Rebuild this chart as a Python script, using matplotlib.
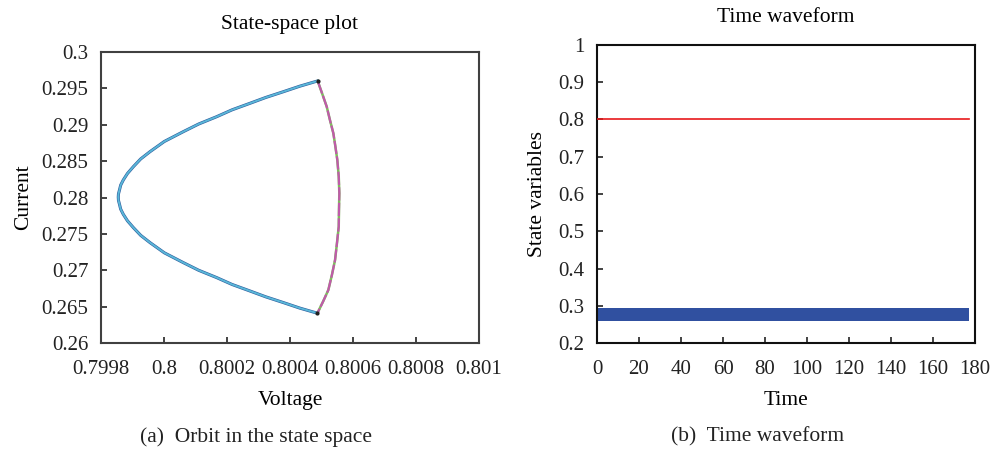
import numpy as np
import matplotlib
matplotlib.use('Agg')
import matplotlib.pyplot as plt

plt.rcParams['font.family'] = ['Liberation Serif', 'DejaVu Serif']
plt.rcParams['font.size'] = 15

# orbit
# left (cyan) branch, top corner -> vertex -> bottom corner
branch_i = [0.29601, 0.29530, 0.29454, 0.29375, 0.29295, 0.29205, 0.29111,
            0.29010, 0.28905, 0.28770, 0.28630, 0.28530, 0.28423, 0.28330,
            0.28241, 0.28170, 0.28103, 0.28050, 0.28005,
            0.27960, 0.27907, 0.27840, 0.27769, 0.27680, 0.27587, 0.27480,
            0.27380, 0.27240, 0.27105, 0.27000, 0.26899, 0.26805, 0.26715,
            0.26635, 0.26556, 0.26480, 0.26410]
branch_v = [0.8004867, 0.8004310, 0.8003788, 0.8003230, 0.8002730, 0.8002160,
            0.8001673, 0.8001100, 0.8000613, 0.8000010, 0.7999556, 0.7999260,
            0.7999026, 0.7998840, 0.7998708, 0.7998625, 0.7998587, 0.7998555,
            0.7998549,
            0.7998555, 0.7998587, 0.7998625, 0.7998708, 0.7998840, 0.7999026,
            0.7999260, 0.7999556, 0.8000010, 0.8000613, 0.8001100, 0.8001673,
            0.8002160, 0.8002730, 0.8003230, 0.8003788, 0.8004310, 0.8004867]
# right (magenta/green) arc, top corner -> bottom corner
arc_i = [0.29601, 0.29420, 0.29248, 0.29065, 0.28883, 0.28700, 0.28516,
         0.28290, 0.28058, 0.27830, 0.27599, 0.27370, 0.27141, 0.26935,
         0.26729, 0.26570, 0.26408]
arc_v = [0.8004880, 0.8005028, 0.8005166, 0.8005268, 0.8005376, 0.8005441,
         0.8005502, 0.8005547, 0.8005566, 0.8005555, 0.8005547, 0.8005490,
         0.8005430, 0.8005330, 0.8005217, 0.8005050, 0.8004867]

# time waveform
t_span = [0, 177]
voltage_level = [0.8, 0.8]
current_low = [0.260, 0.260]
current_high = [0.294, 0.294]

fig = plt.figure(figsize=(9.94, 4.53), dpi=100)
ax1 = fig.add_axes([0.1016, 0.2428, 0.3803, 0.6424])
ax2 = fig.add_axes([0.6006, 0.2428, 0.3803, 0.6579])

# state-space plot
ax1.plot(branch_v, branch_i, color='#2f5d9e', lw=2.2, zorder=2)
ax1.plot(branch_v, branch_i, color='#5ab7d8', lw=1.4, zorder=3)
ax1.plot(arc_v, arc_i, color='#7cc05a', lw=1.8, zorder=2)
ax1.plot(arc_v, arc_i, color='#c05aaa', lw=1.6, ls=(0, (6, 1)), zorder=3)
ax1.plot([arc_v[0], arc_v[-1]], [arc_i[0], arc_i[-1]], 'o', color='#202020',
         ms=2, zorder=4)
ax1.set_xlim(0.7998, 0.801)
ax1.set_ylim(0.26, 0.3)
ax1.set_xticks(np.arange(0.7998, 0.80101, 0.0002))
ax1.set_xticklabels(['0.7998', '0.8', '0.8002', '0.8004', '0.8006', '0.8008', '0.801'])
ax1.set_yticks(np.arange(0.26, 0.3001, 0.005))
ax1.set_yticklabels(['0.26', '0.265', '0.27', '0.275', '0.28', '0.285', '0.29',
                     '0.295', '0.3'])
ax1.set_title('State-space plot', pad=16.5, fontsize=15.5)
ax1.set_xlabel('Voltage', labelpad=9, fontsize=15.5)
ax1.set_ylabel('Current', labelpad=6, fontsize=15.5)

# time waveform
ax2.fill_between(t_span, current_low, current_high, color='#3050a0', lw=0, zorder=2)
ax2.plot(t_span, voltage_level, color='#e8191b', lw=1.2, zorder=3)
ax2.set_xlim(0, 180)
ax2.set_ylim(0.2, 1.0)
ax2.set_xticks(np.arange(0, 181, 20))
ax2.set_yticks(np.arange(0.2, 1.01, 0.1))
ax2.set_yticklabels(['0.2', '0.3', '0.4', '0.5', '0.6', '0.7', '0.8', '0.9', '1'])
ax2.set_title('Time waveform', pad=16.5, fontsize=15.5)
ax2.set_xlabel('Time', labelpad=9, fontsize=15.5)
ax2.set_ylabel('State variables', labelpad=8, fontsize=15.5)

for ax, c in [(ax1, '#404040'), (ax2, '#101010')]:
    for s in ax.spines.values():
        s.set_linewidth(1.5)
        s.set_color(c)
    ax.tick_params(direction='in', length=4, width=1.2, pad=9, labelsize=15,
                   top=False, right=False, colors='#222222')
    ax.tick_params(axis='x', pad=12)

fig.text(0.2576, 0.0353, '(a)  Orbit in the state space', ha='center', va='center',
         fontsize=15.5, color='#222222')
fig.text(0.7626, 0.0353, '(b)  Time waveform', ha='center', va='center',
         fontsize=15.5, color='#222222')

fig.savefig('out.png', dpi=100)
